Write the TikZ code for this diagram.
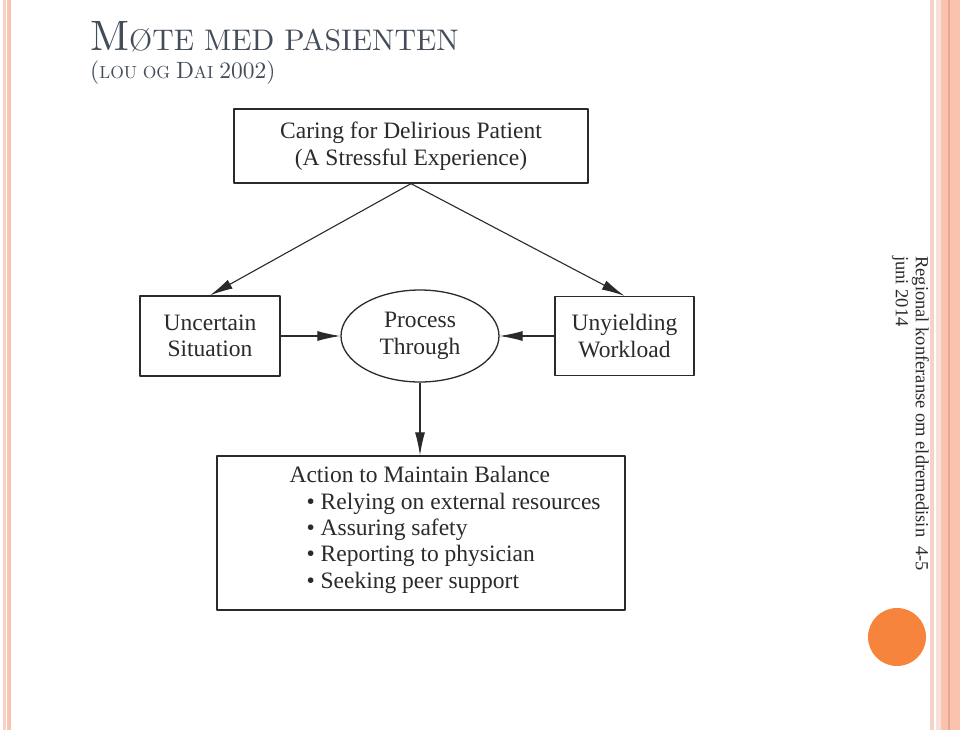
\documentclass[tikz,border=0pt]{standalone}
\usepackage{fontspec}
\newfontfamily\figfont{Liberation Serif}
\newfontfamily\titlefont[Extension=.otf]{lmroman10-regular}
\usetikzlibrary{shapes,arrows.meta,positioning}
\definecolor{stripe}{HTML}{F9C3AE}
\definecolor{stripelight}{HTML}{F4D3C6}
\definecolor{stripedark}{HTML}{EBA78D}
\definecolor{titlegray}{HTML}{424D59}
\definecolor{dotorange}{HTML}{F7843C}
\definecolor{ink}{HTML}{2A2A2A}

\begin{document}
\begin{tikzpicture}[x=1pt, y=-1pt, line join=round,
    box/.style={draw=ink, line width=1.3pt, rectangle, inner sep=0pt, align=center,
        text=ink, font=\figfont\fontsize{23.5}{26.5}\selectfont},
    oval/.style={box, ellipse, minimum width=158pt, minimum height=92pt},
    arr/.style={draw=ink, line width=1.1pt, -{Latex[length=23pt,width=10pt]}}]
    % Page and side stripes
    \useasboundingbox (0,0) rectangle (960,730);
    \fill[white] (0,0) rectangle (960,730);
    \fill[stripelight] (3,0) rectangle (6,730);
    \fill[stripe] (7,0) rectangle (11,730);
    \fill[stripelight] (930,0) rectangle (934,730);
    \fill[stripelight!70] (936,0) rectangle (940.5,730);
    \fill[stripe] (940.5,0) rectangle (960,730);
    \draw[stripedark, line width=1.5pt] (949,0) -- (949,730);

    % Title
    \node[anchor=base west, inner sep=0, text=titlegray, font=\titlefont] (title) at (90,51)
        {\fontsize{42.5}{42.5}\selectfont M\fontsize{29.8}{29.8}\selectfont ØTE MED PASIENTEN};
    \node[anchor=base west, inner sep=0, text=titlegray, font=\titlefont] (subtitle) at (90,79)
        {\fontsize{23.5}{23.5}\selectfont(\fontsize{17.5}{17.5}\selectfont LOU OG \fontsize{23.5}{23.5}\selectfont D\fontsize{17.5}{17.5}\selectfont AI \fontsize{23.5}{23.5}\selectfont 2002)};

    % Diagram
    \node[box, minimum width=354pt, minimum height=74pt] (care) at (411,146)
        {Caring for Delirious Patient\\(A Stressful Experience)};
    \node[box, minimum width=140pt, minimum height=80pt] (unc) at (210,336) {Uncertain\\Situation};
    \node[oval] (proc) at (420,336) {Process\\Through};
    \node[box, minimum width=139pt, minimum height=79pt] (work) at (624.5,336) {Unyielding\\Workload};
    \node[box, minimum width=408pt, minimum height=154pt] (act) at (421,533) {};
    \node[anchor=north west, inner sep=0, align=left, text=ink,
        font=\figfont\fontsize{23.5}{26.3}\selectfont] (steps)
        at ([xshift=73pt, yshift=-11pt]act.north west)
        {Action to Maintain Balance\\
         \hspace*{17pt}• Relying on external resources\\
         \hspace*{17pt}• Assuring safety\\
         \hspace*{17pt}• Reporting to physician\\
         \hspace*{17pt}• Seeking peer support};

    % Arrows
    \draw[arr] (care.south) -- (unc.north);
    \draw[arr] (care.south) -- (work.north);
    \draw[arr] (unc) -- (proc);
    \draw[arr] (work) -- (proc);
    \draw[arr] (proc.south) -- (proc.south |- act.north);

    % Side note and dot
    \node[rotate=-90, anchor=north west, inner sep=0, align=left, text=ink,
        font=\figfont\fontsize{18.5}{20}\selectfont] (conf) at (929,256)
        {Regional konferanse om eldremedisin\ \ 4-5\\juni 2014};
    \fill[dotorange] (897,637) circle (29pt);
\end{tikzpicture}
\end{document}
